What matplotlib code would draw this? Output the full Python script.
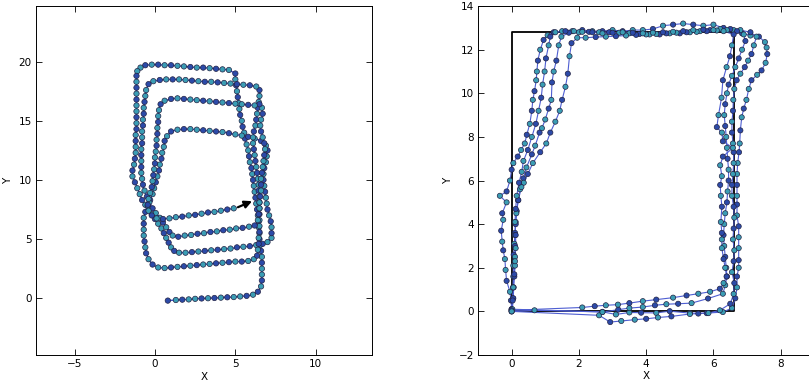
import matplotlib
matplotlib.use("Agg")
import matplotlib.pyplot as plt
import numpy as np

# ---- left panel: one spiral trajectory (x, y) ----
left_pts = [
    # first bottom edge
    (0.8, -0.2), (1.3, -0.15), (1.7, -0.12), (2.1, -0.1), (2.5, -0.05), (2.9, -0.02), (3.3, 0.0),
    (3.7, 0.02), (4.1, 0.05), (4.5, 0.08), (4.9, 0.1), (5.3, 0.15), (5.7, 0.2), (6.1, 0.3), (6.4, 0.55),
    # right side up
    (6.6, 1.0), (6.65, 1.5), (6.65, 2.0), (6.65, 2.5), (6.65, 3.0), (6.65, 3.5), (6.6, 4.0), (6.55, 4.5),
    (6.5, 5.0), (6.5, 5.5), (6.45, 6.0), (6.45, 6.5), (6.4, 7.0), (6.35, 7.5), (6.3, 8.0), (6.25, 8.5),
    (6.2, 9.0), (6.15, 9.5), (6.1, 10.0), (6.05, 10.5), (6.0, 11.0), (5.9, 11.5), (5.85, 12.0), (5.8, 12.5),
    (5.7, 13.0), (5.6, 13.5), (5.55, 14.0), (5.45, 14.5), (5.4, 15.0), (5.3, 15.5), (5.25, 16.0), (5.2, 16.5),
    (5.15, 17.0), (5.1, 17.5), (5.05, 18.0), (5.0, 18.5), (5.0, 19.0),
    # top edge
    (4.6, 19.3), (4.2, 19.35), (3.8, 19.4), (3.4, 19.45), (3.0, 19.5), (2.6, 19.5), (2.2, 19.55), (1.8, 19.6),
    (1.4, 19.65), (1.0, 19.7), (0.6, 19.7), (0.2, 19.75), (-0.2, 19.75), (-0.6, 19.7), (-0.9, 19.5), (-1.1, 19.2),
    # left side down
    (-1.15, 18.8), (-1.15, 18.3), (-1.15, 17.8), (-1.15, 17.3), (-1.15, 16.8), (-1.15, 16.3), (-1.15, 15.8),
    (-1.15, 15.3), (-1.15, 14.8), (-1.15, 14.3), (-1.2, 13.8), (-1.2, 13.3), (-1.2, 12.8), (-1.2, 12.3),
    (-1.25, 11.8), (-1.3, 11.3), (-1.4, 10.8), (-1.4, 10.3), (-1.25, 9.8), (-1.1, 9.3), (-0.95, 8.8),
    (-0.8, 8.3), (-0.6, 7.9), (-0.4, 7.5), (-0.2, 7.1), (0.0, 6.7), (0.2, 6.3), (0.4, 5.9), (0.55, 5.5),
    (0.7, 5.1), (0.85, 4.7), (1.0, 4.3), (1.2, 4.0),
    # second bottom edge
    (1.5, 3.85), (1.9, 3.85), (2.3, 3.9), (2.7, 3.95), (3.1, 4.0), (3.5, 4.05), (3.9, 4.1), (4.3, 4.15),
    (4.7, 4.2), (5.1, 4.3), (5.5, 4.35), (5.9, 4.4), (6.3, 4.5), (6.7, 4.6), (7.0, 4.75), (7.25, 5.1),
    # outer right side
    (7.25, 5.5), (7.25, 6.0), (7.2, 6.5), (7.1, 7.0), (7.0, 7.5), (6.95, 8.0), (6.9, 8.5), (6.85, 9.0),
    (6.8, 9.5), (6.75, 10.0), (6.75, 10.5), (6.8, 11.0), (6.9, 11.5), (6.95, 12.0), (7.0, 12.5), (6.9, 12.9),
    # top edge near y=14
    (6.6, 13.3), (6.2, 13.5), (5.8, 13.65), (5.4, 13.75), (5.0, 13.85), (4.6, 13.95), (4.2, 14.05),
    (3.8, 14.1), (3.4, 14.15), (3.0, 14.2), (2.6, 14.25), (2.2, 14.3), (1.8, 14.3), (1.4, 14.25),
    (1.0, 14.1), (0.75, 13.7),
    # left side down
    (0.6, 13.3), (0.55, 12.8), (0.45, 12.3), (0.4, 11.8), (0.3, 11.3), (0.25, 10.8), (0.15, 10.3),
    (0.05, 9.8), (-0.05, 9.3), (-0.15, 8.8), (-0.3, 8.3), (-0.45, 7.8), (-0.6, 7.3), (-0.7, 6.8),
    (-0.7, 6.3), (-0.7, 5.8), (-0.7, 5.3), (-0.65, 4.8), (-0.6, 4.3), (-0.55, 3.8), (-0.4, 3.3),
    (-0.15, 2.85), (0.2, 2.6),
    # third bottom edge
    (0.6, 2.55), (1.0, 2.6), (1.4, 2.65), (1.8, 2.7), (2.2, 2.75), (2.6, 2.8), (3.0, 2.85), (3.4, 2.9),
    (3.8, 2.95), (4.2, 3.0), (4.6, 3.05), (5.0, 3.1), (5.4, 3.1), (5.8, 3.15), (6.15, 3.3), (6.35, 3.6),
    # right side up
    (6.4, 4.1), (6.45, 4.6), (6.45, 5.1), (6.5, 5.6), (6.5, 6.1), (6.5, 6.6), (6.5, 7.1), (6.5, 7.6),
    (6.5, 8.1), (6.5, 8.6), (6.45, 9.1), (6.45, 9.6), (6.4, 10.1), (6.35, 10.6), (6.3, 11.1), (6.25, 11.6),
    (6.2, 12.1), (6.15, 12.6), (6.1, 13.1), (6.1, 13.6), (6.15, 14.1), (6.25, 14.6), (6.3, 15.1),
    (6.35, 15.6), (6.4, 16.1), (6.45, 16.6), (6.5, 17.1), (6.5, 17.6),
    # top edge near y=18.3
    (6.3, 17.9), (5.9, 18.0), (5.5, 18.05), (5.1, 18.1), (4.7, 18.15), (4.3, 18.2), (3.9, 18.25),
    (3.5, 18.3), (3.1, 18.3), (2.7, 18.35), (2.3, 18.4), (1.9, 18.45), (1.5, 18.5), (1.1, 18.5),
    (0.7, 18.5), (0.3, 18.45), (-0.1, 18.35), (-0.4, 18.1),
    # left side down
    (-0.55, 17.6), (-0.6, 17.1), (-0.65, 16.6), (-0.7, 16.1), (-0.7, 15.6), (-0.75, 15.1), (-0.75, 14.6),
    (-0.8, 14.1), (-0.8, 13.6), (-0.8, 13.1), (-0.85, 12.6), (-0.85, 12.1), (-0.85, 11.6), (-0.85, 11.1),
    (-0.85, 10.6), (-0.8, 10.1), (-0.75, 9.6), (-0.65, 9.1), (-0.5, 8.6), (-0.35, 8.1), (-0.15, 7.6),
    (0.05, 7.2), (0.3, 6.8), (0.5, 6.4), (0.7, 6.0), (0.9, 5.6), (1.1, 5.3),
    # fourth bottom edge
    (1.45, 5.2), (1.85, 5.3), (2.25, 5.35), (2.65, 5.45), (3.05, 5.5), (3.45, 5.6), (3.85, 5.65),
    (4.25, 5.75), (4.65, 5.8), (5.05, 5.9), (5.45, 5.95), (5.85, 6.05), (6.2, 6.15),
    # right side up
    (6.4, 6.6), (6.45, 7.1), (6.5, 7.6), (6.5, 8.1), (6.55, 8.6), (6.6, 9.1), (6.6, 9.6), (6.6, 10.1),
    (6.65, 10.6), (6.7, 11.1), (6.75, 11.6), (6.8, 12.1), (6.85, 12.6), (6.8, 13.1), (6.7, 13.6),
    (6.6, 14.1), (6.55, 14.6), (6.6, 15.1), (6.7, 15.6), (6.65, 16.1), (6.5, 16.4),
    # top edge near y=16.8
    (6.2, 16.3), (5.8, 16.35), (5.4, 16.4), (5.0, 16.45), (4.6, 16.5), (4.2, 16.55), (3.8, 16.6),
    (3.4, 16.65), (3.0, 16.7), (2.6, 16.75), (2.2, 16.8), (1.8, 16.85), (1.4, 16.9), (1.0, 16.85),
    (0.6, 16.7), (0.35, 16.4),
    # left side down
    (0.25, 15.9), (0.2, 15.4), (0.2, 14.9), (0.15, 14.4), (0.15, 13.9), (0.1, 13.4), (0.1, 12.9),
    (0.05, 12.4), (0.0, 11.9), (0.0, 11.4), (-0.05, 10.9), (-0.1, 10.4), (-0.15, 9.9), (-0.2, 9.4),
    (-0.3, 8.9), (-0.4, 8.4), (-0.45, 7.9), (-0.4, 7.4), (-0.2, 7.0), (0.1, 6.75),
    # last bottom edge
    (0.5, 6.7), (0.9, 6.75), (1.3, 6.85), (1.7, 6.9), (2.1, 7.0), (2.5, 7.05), (2.9, 7.15), (3.3, 7.25),
    (3.7, 7.3), (4.1, 7.4), (4.5, 7.5), (4.9, 7.6),
]
left_x = [p[0] for p in left_pts]
left_y = [p[1] for p in left_pts]

# final heading arrow
arrow_start = (5.0, 7.6)
arrow_end = (6.2, 8.3)

# ---- right panel: four laps around the reference rectangle ----
run1 = [
    (0.0, 0.0), (0.68, 0.05), (2.7, -0.02), (3.1, -0.14), (3.5, -0.05), (3.85, -0.06), (4.3, -0.07),
    (4.7, 0.01), (5.3, -0.08), (5.8, -0.08), (6.28, -0.03), (6.55, 0.15), (6.65, 0.6),
    (6.7, 1.1), (6.7, 1.6), (6.75, 2.0), (6.75, 2.35), (6.75, 2.9), (6.75, 3.4), (6.75, 3.9), (6.7, 4.4),
    (6.7, 4.9), (6.7, 5.3), (6.7, 5.8), (6.7, 6.3), (6.72, 6.8), (6.76, 7.3), (6.78, 7.7), (6.8, 8.3),
    (6.84, 8.9), (6.9, 9.3), (6.98, 9.7), (7.05, 10.2), (7.13, 10.6), (7.3, 10.85), (7.43, 11.05),
    (7.55, 11.4), (7.6, 11.8), (7.58, 12.1), (7.53, 12.35), (7.35, 12.6), (7.1, 12.65), (6.85, 12.75),
    (6.6, 12.9), (6.3, 13.0), (6.0, 13.15), (5.7, 13.1), (5.4, 13.15), (5.1, 13.2), (4.8, 13.15),
    (4.5, 13.1), (4.2, 12.95), (3.9, 12.9), (3.6, 12.9), (3.3, 12.85), (3.0, 12.9), (2.7, 12.85),
    (2.4, 12.85), (2.1, 12.9), (1.8, 12.85), (1.5, 12.85), (1.25, 12.8), (1.07, 12.66), (0.95, 12.45),
    (0.85, 12.0), (0.78, 11.5), (0.75, 11.0), (0.73, 10.6), (0.68, 10.1), (0.63, 9.7), (0.6, 9.2),
    (0.54, 8.6), (0.45, 8.1), (0.39, 7.7), (0.28, 7.4), (0.18, 7.1), (0.05, 6.8), (0.0, 6.5),
    (-0.05, 6.0), (-0.15, 5.5), (-0.35, 5.3), (-0.15, 5.0), (-0.28, 4.5), (-0.25, 4.2), (-0.31, 3.7),
    (-0.28, 3.2), (-0.25, 2.8), (-0.2, 2.4), (-0.18, 1.9), (-0.15, 1.4), (-0.05, 0.9), (-0.02, 0.5),
    (0.0, 0.1),
]
run2 = [
    (0.0, 0.0), (2.6, -0.18), (2.93, -0.49), (3.26, -0.44), (3.66, -0.38), (4.0, -0.34), (4.35, -0.28),
    (4.75, -0.23), (5.3, -0.12), (5.55, -0.1), (5.85, -0.08), (6.19, 0.05), (6.5, 0.35),
    (6.6, 0.8), (6.62, 1.3), (6.55, 1.8), (6.6, 2.3), (6.62, 2.8), (6.58, 3.3), (6.6, 3.8), (6.62, 4.3),
    (6.6, 4.8), (6.55, 5.3), (6.55, 5.8), (6.58, 6.3), (6.6, 6.8), (6.6, 7.3), (6.58, 7.7), (6.55, 8.2),
    (6.55, 8.7), (6.58, 9.2), (6.59, 9.7), (6.62, 10.2), (6.69, 10.6), (6.8, 10.9), (6.93, 11.2),
    (7.03, 11.5), (7.13, 11.8), (7.2, 12.2), (7.28, 12.6), (7.1, 12.8), (6.8, 12.9),
    (6.5, 12.95), (6.2, 12.95), (5.9, 12.9), (5.6, 12.85), (5.3, 12.8), (5.0, 12.75), (4.7, 12.75),
    (4.4, 12.7), (4.1, 12.7), (3.8, 12.72), (3.5, 12.75), (3.2, 12.78), (2.9, 12.8), (2.6, 12.8),
    (2.3, 12.82), (2.0, 12.8), (1.7, 12.78), (1.48, 12.6),
    (1.4, 12.2), (1.33, 11.5), (1.25, 11.0), (1.2, 10.5), (1.18, 9.7), (1.1, 9.3), (1.0, 8.8), (0.9, 8.4),
    (0.83, 8.2), (0.7, 7.6), (0.6, 7.2), (0.44, 6.6), (0.35, 6.1), (0.25, 5.6), (0.19, 5.1), (0.15, 4.6),
    (0.12, 4.1), (0.1, 3.6), (0.08, 3.1), (0.06, 2.6), (0.05, 2.1), (0.05, 1.6), (0.04, 1.1), (0.04, 0.6),
    (0.0, 0.05),
]
run3 = [
    (0.0, 0.1), (2.7, -0.03), (3.17, 0.08), (3.5, 0.15), (3.9, 0.2), (4.26, 0.28), (4.6, 0.33),
    (4.95, 0.35), (5.35, 0.38), (5.84, 0.59), (6.28, 0.81), (6.35, 1.2),
    (6.4, 1.6), (6.38, 2.0), (6.35, 2.5), (6.32, 3.0), (6.3, 3.5), (6.32, 4.0), (6.35, 4.5), (6.4, 5.0),
    (6.42, 5.5), (6.45, 6.0), (6.45, 6.5), (6.42, 7.0), (6.4, 7.5), (6.38, 8.0), (6.35, 8.5), (6.32, 9.0),
    (6.35, 9.5), (6.4, 10.0), (6.45, 10.4), (6.55, 10.8), (6.65, 11.2), (6.75, 11.6), (6.85, 12.0),
    (6.95, 12.4), (6.9, 12.7), (6.7, 12.85),
    (6.4, 12.9), (6.1, 12.88), (5.8, 12.85), (5.5, 12.82), (5.2, 12.8), (4.9, 12.78), (4.6, 12.75),
    (4.3, 12.72), (4.0, 12.7), (3.7, 12.68), (3.4, 12.65), (3.1, 12.62), (2.8, 12.6), (2.5, 12.58),
    (2.2, 12.55), (1.95, 12.55), (1.78, 12.3),
    (1.72, 11.7), (1.67, 10.9), (1.6, 10.3), (1.5, 9.7), (1.43, 9.2), (1.3, 8.7), (1.15, 8.2), (1.03, 7.7),
    (0.85, 7.3), (0.63, 6.8), (0.48, 6.3), (0.36, 5.9), (0.29, 5.7), (0.2, 5.1), (0.14, 4.5), (0.12, 4.0),
    (0.1, 3.5), (0.1, 3.0), (0.1, 2.5), (0.1, 2.1), (0.08, 1.6), (0.06, 1.1), (0.05, 0.6), (0.02, 0.1),
]
run4 = [
    (0.0, 0.05), (2.1, 0.18), (2.47, 0.24), (2.8, 0.28), (3.16, 0.31), (3.5, 0.38), (3.9, 0.47),
    (4.3, 0.54), (4.8, 0.63), (5.2, 0.73), (5.55, 0.81), (5.9, 0.9), (6.19, 1.04), (6.3, 1.3),
    (6.39, 1.6), (6.35, 2.0), (6.3, 2.4), (6.25, 2.9), (6.25, 3.3), (6.25, 3.6), (6.22, 4.1), (6.25, 4.8),
    (6.22, 5.3), (6.2, 5.8), (6.25, 6.2), (6.2, 6.7), (6.28, 7.1), (6.58, 7.5), (6.28, 7.8), (6.25, 8.2),
    (6.1, 8.45), (6.15, 9.0), (6.24, 9.8), (6.28, 10.6), (6.39, 11.2), (6.49, 11.7), (6.55, 12.2),
    (6.6, 12.7),
    (6.3, 12.85), (6.0, 12.9), (5.7, 12.92), (5.4, 12.9), (5.1, 12.85), (4.8, 12.82), (4.5, 12.8),
    (4.2, 12.78), (3.9, 12.75), (3.6, 12.78), (3.3, 12.8), (3.0, 12.78), (2.7, 12.75), (2.4, 12.8),
    (2.1, 12.82), (1.85, 12.85), (1.6, 12.85), (1.3, 12.8), (1.15, 12.6),
    (1.1, 12.2), (1.02, 11.6), (0.98, 11.0), (0.92, 10.4), (0.88, 9.8), (0.8, 9.2), (0.72, 8.6),
    (0.6, 8.0), (0.48, 7.4), (0.35, 6.9), (0.3, 6.4), (0.22, 5.9), (0.15, 5.3), (0.12, 4.7), (0.1, 4.1),
    (0.12, 3.5), (0.12, 2.9), (0.1, 2.3), (0.08, 1.7), (0.05, 1.1), (0.03, 0.5), (0.0, 0.0),
]
runs = [run1, run2, run3, run4]

# reference rectangle
rect_x = [0.0, 6.6, 6.6, 0.0, 0.0]
rect_y = [0.0, 0.0, 12.82, 12.82, 0.0]

# marker colours (blue / teal mix)
dot_colors = ['#2c4aa8', '#3a9db4', '#2c4aa8', '#3a9db4', '#3a9db4', '#2c4aa8', '#3a9db4']


def colors_for(n):
    return [dot_colors[i % len(dot_colors)] for i in range(n)]


def style_axes(ax):
    ax.tick_params(direction='in', top=True, right=True, length=4, width=0.6,
                   labelsize=7.5, pad=3)
    for s in ax.spines.values():
        s.set_linewidth(0.7)
    ax.set_xlabel('X', fontsize=7.5, labelpad=2)
    ax.set_ylabel('Y', fontsize=7.5, labelpad=4)


fig = plt.figure(figsize=(8.09, 3.83), dpi=100)

# left
ax1 = fig.add_axes([36 / 809, 0.0731, 336 / 809, 0.911])
ax1.plot(left_x, left_y, '-', color='#3e4ec8', lw=1.0, zorder=2)
ax1.scatter(left_x, left_y, s=15, c=colors_for(len(left_x)), edgecolors='#222244',
            linewidths=0.5, zorder=3)
ax1.annotate('', xy=arrow_end, xytext=arrow_start,
             arrowprops=dict(arrowstyle='-|>', color='k', lw=1.6, mutation_scale=11),
             zorder=4)
ax1.set_xlim(-7.4, 13.5)
ax1.set_ylim(-4.8, 24.7)
ax1.set_xticks([-5, 0, 5, 10])
ax1.set_yticks([0, 5, 10, 15, 20])
style_axes(ax1)

# right (its right part lies outside the picture, as in the source image)
ax2 = fig.add_axes([478 / 809, 0.0731, 370 / 809, 0.911])
ax2.plot(rect_x, rect_y, '-', color='k', lw=1.3, zorder=2)
for run in runs:
    rx = [p[0] for p in run]
    ry = [p[1] for p in run]
    ax2.plot(rx, ry, '-', color='#4e5ed2', lw=0.8, zorder=3)
    ax2.scatter(rx, ry, s=14, c=colors_for(len(rx)), edgecolors='#222244',
                linewidths=0.5, zorder=4)
ax2.set_xlim(-1, 10)
ax2.set_ylim(-2, 14)
ax2.set_xticks([0, 2, 4, 6, 8])
ax2.set_yticks(range(-2, 15, 2))
style_axes(ax2)
ax2.xaxis.set_label_coords(336 / 370 / 2, -0.045)

fig.savefig('out.png', dpi=100)
